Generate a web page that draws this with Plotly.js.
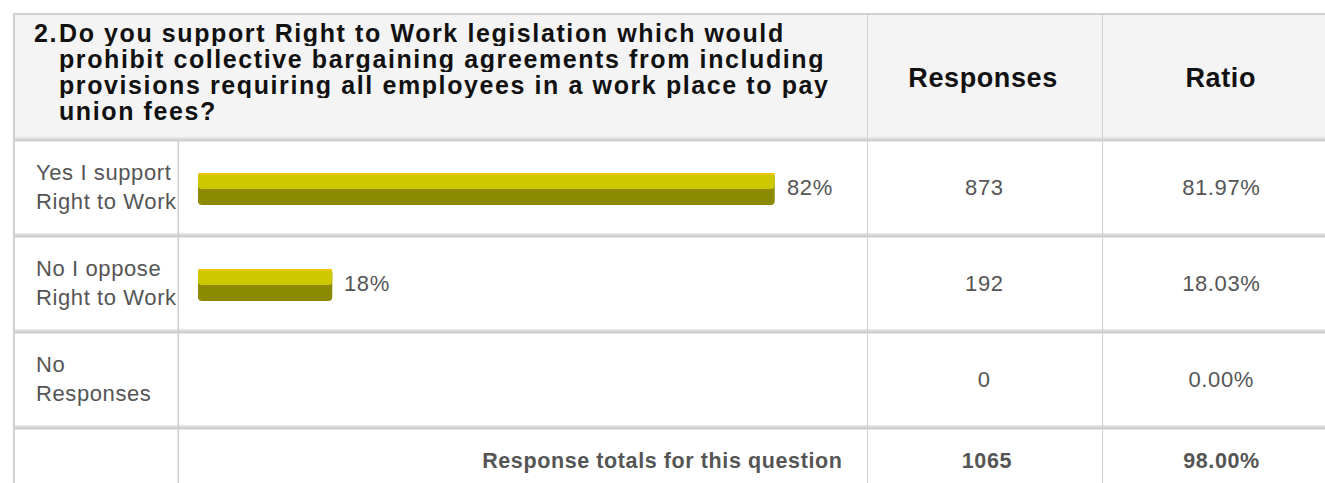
<!DOCTYPE html>
<html>
<head>
<meta charset="utf-8">
<script src="https://cdn.plot.ly/plotly-3.0.1.min.js"></script>
<style>
html, body { margin: 0; padding: 0; background: #ffffff; }
#chart { width: 1325px; height: 483px; }
.js-plotly-plot .annotation-text { letter-spacing: 0.6px; }
.js-plotly-plot .annotation-text[style*="font-size: 25px"] { letter-spacing: 1.6px; }
</style>
</head>
<body>
<div id="chart"></div>
<script>
// ---------- data ----------
const questionNumber = "2.";
const questionLines = [
  "Do you support Right to Work legislation which would",
  "prohibit collective bargaining agreements from including",
  "provisions requiring all employees in a work place to pay",
  "union fees?"
];
const columnHeaders = ["Responses", "Ratio"];
const answers = ["Yes I support<br>Right to Work", "No I oppose<br>Right to Work", "No<br>Responses"];
const responses = [873, 192, 0];
const ratios = [81.97, 18.03, 0.00];
const totalLabel = "Response totals for this question";
const totalResponses = 1065;
const totalRatio = 98.00;

// ---------- layout constants (pixels) ----------
const W = 1325, H = 483;
const tableLeft = 14, tableTop = 14;
const colLabel = 178, colResp = 867, colRatio = 1102, tableRight = W + 20;
const headerBottom = 139, rowH = 96;
const barZeroPx = 207.5, pxPerPct = 6.92, barCapPx = 9.5;
const barHeightPx = 32, barShiftPx = 2;

const X = px => px / W;
const Y = py => 1 - py / H;

const capPct = barCapPx / pxPerPct;
const firstRowCenter = headerBottom + rowH / 2;
const yRange = [(H - firstRowCenter) / rowH, (0 - firstRowCenter) / rowH];
const xRange = [(0 - barZeroPx) / pxPerPct, (W - barZeroPx) / pxPerPct];

const barTop = (barShiftPx - barHeightPx / 2) / rowH;
const barX = ratios.map(v => v > 0 ? v + capPct : 0);
const barBase = ratios.map(v => v > 0 ? -capPct : 0);

function barTrace(color, heightPx, radius) {
  return {
    type: 'bar', orientation: 'h',
    y: answers, x: barX, base: barBase,
    offset: barTop, width: heightPx / rowH,
    marker: { color: color, line: { width: 0 }, cornerradius: radius },
    hoverinfo: 'skip', showlegend: false
  };
}

const traces = [
  barTrace('#8c8a00', barHeightPx, 4),
  barTrace('#cdc800', barHeightPx / 2, 4),
  barTrace('#f2c300', 2, 1)
];

// ---------- shapes (table grid) ----------
const grey = '#d0d0d0';
const shapes = [];
function rect(x0, y0, x1, y1, color) {
  shapes.push({ type: 'rect', xref: 'paper', yref: 'paper', layer: 'below',
    x0: X(x0), x1: X(x1), y0: Y(y0), y1: Y(y1),
    fillcolor: color, line: { width: 0 } });
}
rect(tableLeft, tableTop, tableRight, headerBottom, '#f4f4f4');
rect(tableLeft - 1, tableTop - 1, tableRight, tableTop + 1, grey);
rect(tableLeft - 1, tableTop - 1, tableLeft + 1, H, grey);
[0, 1, 2, 3].forEach(i => {
  const yy = headerBottom + i * rowH;
  rect(tableLeft + 1, yy - 2, tableRight, yy, '#e3e3e3');
  rect(tableLeft + 1, yy, tableRight, yy + 2.5, '#cfcfcf');
});
rect(colResp, tableTop, colResp + 1, H, grey);
rect(colRatio, tableTop, colRatio + 1, H, grey);
rect(colLabel - 0.5, headerBottom, colLabel + 1, H, grey);

// ---------- annotations ----------
const fam = 'Liberation Sans, Arial, sans-serif';
const bodyFont = { family: fam, size: 22, color: '#555555' };
const questionFont = { family: fam, size: 25, color: '#111111', weight: 700 };
const headFont = { family: fam, size: 27, color: '#111111', weight: 700 };
const totalFont = { family: fam, size: 21.5, color: '#555555', weight: 700 };

const ann = [];
function note(o) {
  const align = o.xanchor === 'left' ? 'left' : (o.xanchor === 'right' ? 'right' : 'center');
  ann.push(Object.assign({ showarrow: false, yanchor: 'middle', align: align }, o));
}

// header
const qLineCenters = [33, 59, 85, 111];
const qLineHeight = 26;
note({ xref: 'paper', yref: 'paper', x: X(33), y: Y(qLineCenters[0]), xanchor: 'left', width: 24, height: qLineHeight, borderpad: 0, text: questionNumber, font: questionFont });
questionLines.forEach((t, i) => {
  note({ xref: 'paper', yref: 'paper', x: X(58), y: Y(qLineCenters[i]), xanchor: 'left', width: 790, height: qLineHeight, borderpad: 0, text: t, font: questionFont });
});
note({ xref: 'paper', yref: 'paper', x: X(983), y: Y(78), xanchor: 'center', text: columnHeaders[0], font: headFont });
note({ xref: 'paper', yref: 'paper', x: X(1221), y: Y(78), xanchor: 'center', text: columnHeaders[1], font: headFont });

// rows
answers.forEach((a, i) => {
  note({ xref: 'paper', yref: 'y', x: X(34), y: a, xanchor: 'left', text: a, font: bodyFont });
  if (ratios[i] > 0) {
    note({ xref: 'x', yref: 'y', x: ratios[i], y: a, xanchor: 'left', xshift: 10, text: Math.round(ratios[i]) + '%', font: bodyFont });
  }
  note({ xref: 'paper', yref: 'y', x: X(984), y: a, xanchor: 'center', text: String(responses[i]), font: bodyFont });
  note({ xref: 'paper', yref: 'y', x: X(1221), y: a, xanchor: 'center', text: ratios[i].toFixed(2) + '%', font: bodyFont });
});

// totals
note({ xref: 'paper', yref: 'paper', x: X(844), y: Y(461), xanchor: 'right', text: totalLabel, font: totalFont });
note({ xref: 'paper', yref: 'paper', x: X(987), y: Y(461), xanchor: 'center', text: String(totalResponses), font: totalFont });
note({ xref: 'paper', yref: 'paper', x: X(1221), y: Y(461), xanchor: 'center', text: totalRatio.toFixed(2) + '%', font: totalFont });

const layout = {
  width: W, height: H,
  margin: { l: 0, r: 0, t: 0, b: 0, pad: 0 },
  paper_bgcolor: '#ffffff', plot_bgcolor: 'rgba(0,0,0,0)',
  barmode: 'overlay',
  showlegend: false,
  xaxis: { range: xRange, visible: false, fixedrange: true, domain: [0, 1] },
  yaxis: { type: 'category', categoryorder: 'array', categoryarray: answers, range: yRange, visible: false, fixedrange: true, domain: [0, 1] },
  shapes: shapes,
  annotations: ann
};

Plotly.newPlot('chart', traces, layout, { staticPlot: true, displayModeBar: false });
</script>
</body>
</html>
